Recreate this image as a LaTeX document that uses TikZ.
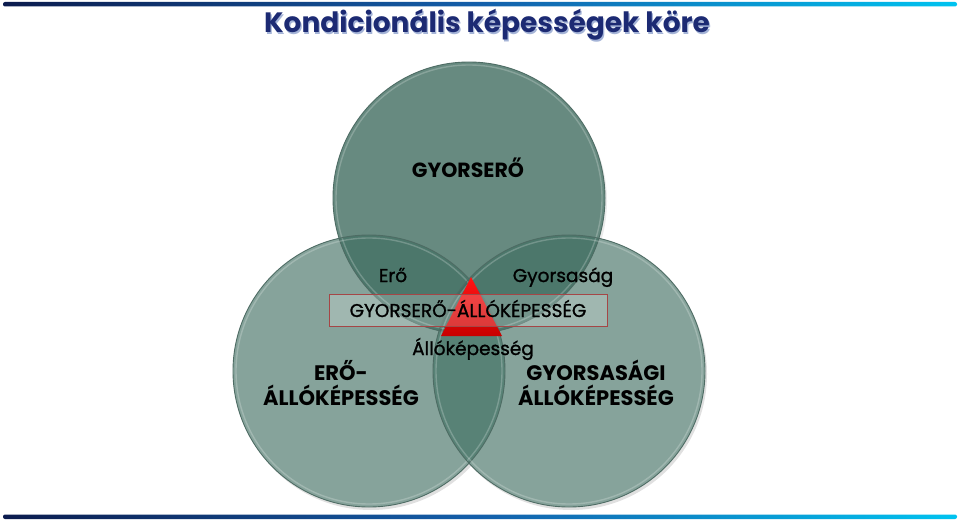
\documentclass[tikz,border=0pt]{standalone}
\usepackage{fontspec}
\setmainfont{Poppins}
\newfontfamily\medfont{Poppins}[FakeBold=1.2]
\definecolor{cside}{RGB}{134,163,155}
\definecolor{ctop}{RGB}{103,138,128}
\definecolor{clr}{RGB}{88,130,118}
\definecolor{ctl}{RGB}{76,119,107}
\definecolor{ctri}{RGB}{66,108,97}
\definecolor{rim}{RGB}{78,108,100}
\definecolor{barl}{RGB}{12,28,78}
\definecolor{barm}{RGB}{20,95,170}
\definecolor{barr}{RGB}{0,195,240}
\definecolor{boxred}{RGB}{165,70,70}
\definecolor{titleblue}{RGB}{28,42,115}
\definecolor{titleglow}{RGB}{165,180,215}
\tikzset{
  bar/.style={left color=barl, right color=barr, middle color=barm},
  lbl/.style={anchor=base, inner sep=0pt, font=\medfont\fontsize{18.5}{22}\selectfont, text=black},
  biglbl/.style={anchor=base, inner sep=0pt, font=\fontsize{21}{25}\selectfont\bfseries, text=black},
  rimline/.style={draw=rim, line width=0.9pt},
  glint/.style={draw=white, draw opacity=0.22, line width=1.4pt},
}
\begin{document}
\begin{tikzpicture}[x=1pt,y=-1pt]
\useasboundingbox (0,0) rectangle (960,521);
\fill[white] (0,0) rectangle (960,521);
% bars
\shade[bar, rounded corners=2pt] (3,2) rectangle (957,6.5);
\shade[bar, rounded corners=2pt] (3,514.5) rectangle (957,519);
% title
\node[anchor=base, inner sep=0pt, text=titleglow, font=\fontsize{28}{32}\selectfont\bfseries] (titleshadow) at (488.2,34.2) {Kondicionális képességek köre};
\node[anchor=base, inner sep=0pt, text=titleblue, font=\fontsize{28}{32}\selectfont\bfseries] (title) at (487,33) {Kondicionális képességek köre};
% circles
\coordinate (T) at (469,198);
\coordinate (L) at (369,371);
\coordinate (R) at (569,371);
\def\rr{136}
\fill[black, opacity=0.12] ([shift={(2,3)}]L) circle (\rr);
\fill[black, opacity=0.12] ([shift={(2,3)}]R) circle (\rr);
\fill[black, opacity=0.08] ([shift={(2,3)}]T) circle (\rr);
\fill[cside] (L) circle (\rr);
\fill[cside] (R) circle (\rr);
\fill[ctop] (T) circle (\rr);
\begin{scope}
  \clip (L) circle (\rr);
  \fill[clr] (R) circle (\rr);
\end{scope}
\begin{scope}
  \clip (T) circle (\rr);
  \fill[ctl] (L) circle (\rr);
  \fill[ctl] (R) circle (\rr);
  \clip (L) circle (\rr);
  \fill[ctri] (R) circle (\rr);
\end{scope}
\foreach \c in {T,L,R}{
  \draw[rimline] (\c) circle (\rr);
  \draw[glint] (\c) circle (\rr-3);
}
% triangle
\shade[top color={rgb,255:red,255;green,20;blue,20}, bottom color={rgb,255:red,200;green,0;blue,0}]
  (471,277) -- (502,336) -- (441,336) -- cycle;
% box
\node[draw=boxred, line width=0.9pt, fill=white, fill opacity=0.22, text opacity=1,
      minimum width=278, minimum height=32, inner sep=0pt] (box) at (468,310) {};
\node[lbl] (boxtext) at (468,317) {GYORSERŐ-ÁLLÓKÉPESSÉG};
% labels
\node[anchor=base, inner sep=0pt, font=\fontsize{20.5}{24}\selectfont\bfseries] (gyorsero) at (468,178) {GYORSERŐ};
\node[lbl] (ero) at (393,282) {Erő};
\node[lbl] (gyorsasag) at (563,282) {Gyorsaság};
\node[lbl] (allo) at (473,355) {Állóképesség};
\node[biglbl] (eroa) at (341,380) {ERŐ-};
\node[biglbl] (erob) at (341,405) {ÁLLÓKÉPESSÉG};
\node[biglbl] (gya) at (596,380) {GYORSASÁGI};
\node[biglbl] (gyb) at (596,405) {ÁLLÓKÉPESSÉG};
\end{tikzpicture}
\end{document}
